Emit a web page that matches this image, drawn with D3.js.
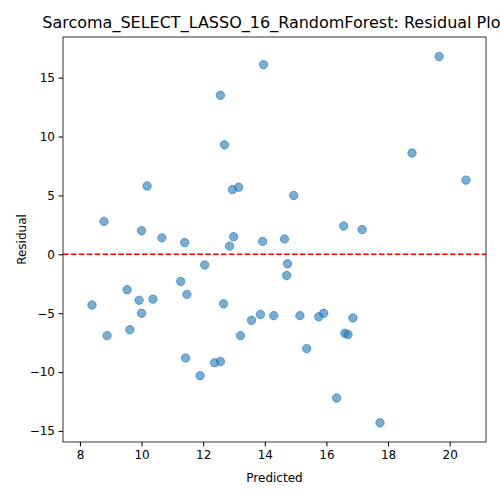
<!DOCTYPE html>
<html><head><meta charset="utf-8">
<script src="https://cdn.jsdelivr.net/npm/d3@7"></script>
<style>body{margin:0;background:#fff;overflow:hidden}text{font-family:"DejaVu Sans",sans-serif}</style>
</head><body>
<script>
// predicted vs residual
var predicted = [8.78,8.39,8.88,9.53,9.62,9.92,10.0,10.0,10.18,10.37,10.66,11.27,11.4,11.47,11.43,11.9,12.05,12.37,12.56,12.56,12.69,12.66,12.86,12.95,13.15,12.99,13.21,13.57,13.86,13.93,13.96,14.29,14.64,14.74,14.71,14.94,15.14,15.36,15.75,15.91,16.33,16.56,16.6,16.7,16.86,17.16,17.74,18.78,19.66,20.53];
var residual = [2.8,-4.3,-6.9,-3.0,-6.4,-3.9,-5.0,2.0,5.8,-3.8,1.4,-2.3,1.0,-3.4,-8.8,-10.3,-0.9,-9.2,-9.1,13.5,9.3,-4.2,0.7,5.5,5.7,1.5,-6.9,-5.6,-5.1,1.1,16.1,-5.2,1.3,-0.8,-1.8,5.0,-5.2,-8.0,-5.3,-5.0,-12.2,2.4,-6.7,-6.8,-5.4,2.1,-14.3,8.6,16.8,6.3];
var xTicks = [8,10,12,14,16,18,20];
var yTicks = [-15,-10,-5,0,5,10,15];

var w = 500, h = 500;
var m = {left: 63, right: 14, top: 37, bottom: 58};

var svg = d3.select("body").append("svg").attr("width", w).attr("height", h);

var x = d3.scaleLinear().domain([7.45, 21.18]).range([m.left, w - m.right]);
var y = d3.scaleLinear().domain([-15.93, 18.45]).range([h - m.bottom, m.top]);

svg.append("g")
    .attr("transform", "translate(0," + (h - m.bottom) + ")")
    .call(d3.axisBottom(x).tickValues(xTicks).tickSizeOuter(0).tickSize(4.5).tickPadding(3.5))
    .attr("font-size", 12);
svg.append("g")
    .attr("transform", "translate(" + m.left + ",0)")
    .call(d3.axisLeft(y).tickValues(yTicks).tickSizeOuter(0).tickSize(4.5).tickPadding(3.5))
    .attr("font-size", 12);
svg.selectAll(".domain").remove();

// zero line
svg.append("line")
    .attr("x1", m.left).attr("x2", w - m.right)
    .attr("y1", y(0)).attr("y2", y(0))
    .attr("stroke", "red").attr("stroke-width", 1.5).attr("stroke-dasharray", "5.5,2.4");

svg.selectAll("circle")
    .data(predicted)
    .enter().append("circle")
    .attr("cx", function(d) { return x(d); })
    .attr("cy", function(d, i) { return y(residual[i]); })
    .attr("r", 4.2)
    .attr("fill", "#1f77b4").attr("fill-opacity", 0.6)
    .attr("stroke", "#1f77b4").attr("stroke-opacity", 0.6);

// frame
svg.append("rect")
    .attr("x", m.left).attr("y", m.top)
    .attr("width", w - m.left - m.right).attr("height", h - m.top - m.bottom)
    .attr("fill", "none").attr("stroke", "#000").attr("stroke-width", 0.8);

svg.append("text").attr("x", (m.left + w - m.right) / 2).attr("y", 28)
    .attr("text-anchor", "middle").attr("font-size", 16)
    .text("Sarcoma_SELECT_LASSO_16_RandomForest: Residual Plot");
svg.append("text").attr("x", (m.left + w - m.right) / 2).attr("y", 482)
    .attr("text-anchor", "middle").attr("font-size", 12).text("Predicted");
svg.append("text").attr("transform", "translate(26," + ((m.top + h - m.bottom) / 2) + ") rotate(-90)")
    .attr("text-anchor", "middle").attr("font-size", 12).text("Residual");
</script>
</body></html>
